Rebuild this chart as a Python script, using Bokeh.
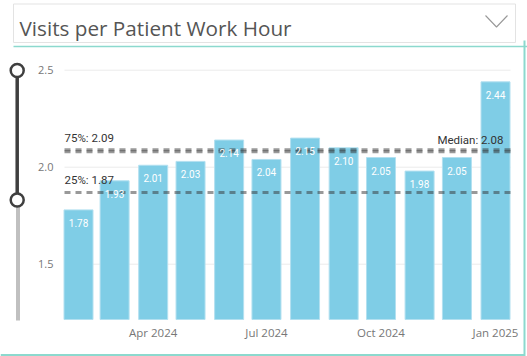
import pandas as pd
from bokeh.plotting import figure
from bokeh.models import Range1d, FixedTicker, DatetimeTickFormatter, PrintfTickFormatter
from bokeh.core.properties import value
from bokeh.embed import file_html
from bokeh.resources import INLINE

# ---- data ----
months = ["2024-02-01", "2024-03-01", "2024-04-01", "2024-05-01", "2024-06-01",
          "2024-07-01", "2024-08-01", "2024-09-01", "2024-10-01", "2024-11-01",
          "2024-12-01", "2025-01-01"]
visits = [1.78, 1.93, 2.01, 2.03, 2.14, 2.04, 2.15, 2.10, 2.05, 1.98, 2.05, 2.44]
tick_dates = ["2024-04-01", "2024-07-01", "2024-10-01", "2025-01-01"]
y_ticks = [1.5, 2.0, 2.5]
ref_names = ["75%", "25%", "Median"]
ref_values = [2.09, 1.87, 2.08]
title_text = "Visits per Patient Work Hour"

dates = pd.to_datetime(months)
labels = ["%.2f" % v for v in visits]

# ---- layout constants (pixels) ----
W, H = 527, 356
A_LEFT, A_RIGHT, A_TOP, A_BOTTOM = 64, 510, 60, 319
TEAL = "#8cd9ce"

DAY = 86400000.0
x_start = pd.Timestamp("2024-01-20 18:00").value / 1e6
x_end = pd.Timestamp("2025-01-13 01:00").value / 1e6
y_start, y_end = 1.215, 2.55

ppx = (A_RIGHT - A_LEFT) / (x_end - x_start)
ppy = (A_BOTTOM - A_TOP) / (y_end - y_start)
full_x = Range1d(x_start - A_LEFT / ppx, x_end + (W - A_RIGHT) / ppx)
full_y = Range1d(y_start - (H - A_BOTTOM) / ppy, y_end + A_TOP / ppy)

p = figure(width=W, height=H, x_axis_type="datetime", x_range=full_x, y_range=full_y,
           output_backend="svg", toolbar_location=None,
           min_border=0, min_border_left=0, min_border_right=0,
           min_border_top=0, min_border_bottom=0)
p.extra_x_ranges = {"px": Range1d(0, W)}
p.extra_y_ranges = {"px": Range1d(H, 0)}
p.outline_line_color = None
p.background_fill_color = "white"
p.border_fill_color = "white"
p.grid.visible = False

xa, ya = p.xaxis[0], p.yaxis[0]
for ax in (xa, ya):
    ax.axis_line_color = None
    ax.major_tick_line_color = None
    ax.minor_tick_line_color = None
    ax.major_tick_out = 0
    ax.major_tick_in = 0
    ax.minor_tick_out = 0
    ax.minor_tick_in = 0
    ax.major_label_text_font = "Open Sans"
    ax.major_label_text_color = "#777777"
xa.major_label_text_font_size = "11.5px"
ya.major_label_text_font_size = "11px"
ya.fixed_location = x_start
ya.ticker = FixedTicker(ticks=y_ticks)
ya.formatter = PrintfTickFormatter(format="%.1f")
ya.major_label_standoff = 11
xa.fixed_location = y_start
tick_ms = [pd.Timestamp(d).value / 1e6 for d in tick_dates]
xa.ticker = FixedTicker(ticks=tick_ms)
fmt = "%b %Y"
xa.formatter = DatetimeTickFormatter(milliseconds=fmt, seconds=fmt, minsec=fmt,
                                     minutes=fmt, hourmin=fmt, hours=fmt, days=fmt,
                                     months=fmt, years=fmt)
xa.major_label_standoff = 5

# gridlines (chart area only)
p.segment(x0=[x_start] * len(y_ticks), x1=[x_end] * len(y_ticks), y0=y_ticks, y1=y_ticks,
          line_color="#ebebeb", line_width=1)

# bars
p.vbar(x=dates, top=visits, bottom=y_start, width=23.3 * DAY, fill_color="#7fcde6",
       line_color="#b3e0f0", line_width=1)

# reference lines
for v in ref_values:
    p.segment(x0=[x_start], x1=[x_end], y0=[v], y1=[v], line_color="#333333",
              line_alpha=0.5, line_width=3, line_dash="6 5")

p.text(x=[x_start, x_start], y=[ref_values[0], ref_values[1]],
       text=["%s: %.2f" % (ref_names[0], ref_values[0]), "%s: %.2f" % (ref_names[1], ref_values[1])],
       text_font=value("Roboto"), text_font_size="11.5px", text_color="#333333",
       text_baseline="alphabetic", text_align="left", y_offset=-12)
p.text(x=[x_end], y=[ref_values[2]], text=["%s: %.2f" % (ref_names[2], ref_values[2])],
       text_font=value("Roboto"), text_font_size="11.5px", text_color="#333333",
       text_baseline="alphabetic", text_align="right", y_offset=-12, x_offset=-7)

# data labels
p.text(x=dates, y=visits, text=labels, text_font=value("Roboto"), text_font_size="10px",
       text_color="white", text_align="center", text_baseline="middle", y_offset=13)

# ---- header / frame decorations (pixel range) ----
px = dict(x_range_name="px", y_range_name="px")
p.quad(left=[13], right=[515], top=[3.5], bottom=[42], fill_color="white",
       line_color="#e3e3e3", line_width=1, **px)
p.text(x=[19], y=[27], text=[title_text], text_font=value("Open Sans"),
       text_font_size="20.7px", text_color="#555555", text_baseline="alphabetic",
       text_align="left", **px)
p.line(x=[485, 496, 507], y=[15, 26.5, 15], line_color="#999999", line_width=1.1, **px)
p.segment(x0=[13, 524, 0], x1=[527, 524, 524], y0=[46, 40, 354.5], y1=[46, 356, 354.5],
          line_color=TEAL, line_width=[1.5, 2, 2], **px)

# ---- slider ----
p.segment(x0=[17.5], x1=[17.5], y0=[199.5], y1=[320], line_color="#c0c0c0", line_width=4, **px)
p.segment(x0=[16.7], x1=[16.7], y0=[70], y1=[199.5], line_color="#3f3f3f", line_width=3.5, **px)
p.scatter(x=[16.7, 16.7], y=[70, 199.5], size=13, marker="circle", fill_color="white",
          line_color="#3f3f3f", line_width=2.5, **px)

open("out.html", "w").write(file_html(p, INLINE))
